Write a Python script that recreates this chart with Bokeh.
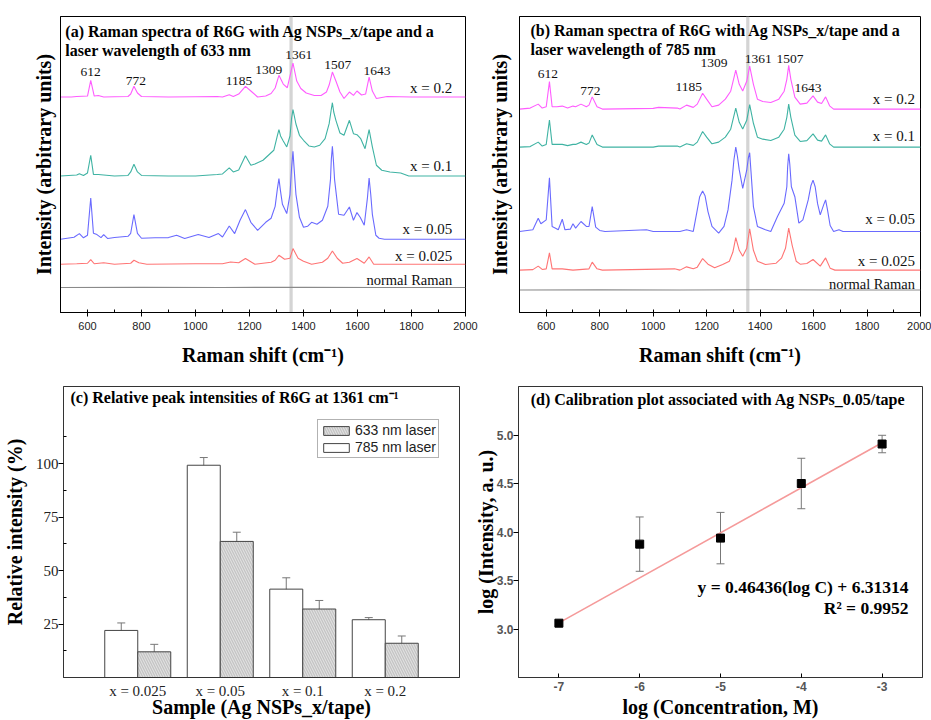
from bokeh.plotting import figure
from bokeh.models import (Range1d, FactorRange, ColumnDataSource, FixedTicker, SingleIntervalTicker,
                          Whisker, TeeHead, Legend, LegendItem, BoxAnnotation, PrintfTickFormatter)
from bokeh.transform import dodge
from bokeh.layouts import column, row
from bokeh.embed import file_html
from bokeh.resources import INLINE
from bokeh.core.properties import value

# ---------------- data ----------------
# (a) 633 nm spectra: Raman shift (cm-1) and intensity above each baseline (arb. units)
a02_x = [500, 540, 560, 600, 612, 625, 640, 660, 700, 750, 760, 772, 785, 800, 900, 1000, 1080, 1100, 1125, 1140,
         1160, 1185, 1205, 1230, 1260, 1280, 1295, 1309, 1325, 1340, 1361, 1375, 1390, 1410, 1440, 1465, 1485, 1495,
         1507, 1520, 1535, 1550, 1570, 1585, 1598, 1615, 1630, 1643, 1655, 1670, 1710, 1800, 2000]
a02_i = [0, 0, 0.5, 1, 16.7, 1, 1.5, 0, 0.3, 0.5, 3, 10.7, 4, 0.5, 0, 0.3, 0.5, 0, 2.3, 0.5,
         3, 10.7, 6, 0, 1, 3.5, 9, 21.7, 13, 9.3, 34, 16, 8.5, 4, 1.5, 1.5, 5, 12,
         25, 16, 5, -1.5, 5, 1.7, 6, 2, 3, 20, 6, -1.5, 0.5, 0, 0]
a01_x = [500, 560, 570, 585, 600, 612, 622, 640, 660, 700, 750, 760, 772, 785, 800, 900, 1000, 1080, 1100, 1125,
         1140, 1160, 1185, 1205, 1220, 1250, 1270, 1290, 1303, 1309, 1315, 1325, 1338, 1350, 1356, 1361, 1366, 1372,
         1385, 1400, 1420, 1440, 1460, 1480, 1495, 1502, 1507, 1512, 1520, 1535, 1550, 1570, 1585, 1598, 1612, 1628,
         1643, 1655, 1670, 1690, 1720, 1760, 1790, 2000]
a01_i = [0, 1, 2.3, 0.5, 3, 20.7, 1.5, 1.5, 1, 0, 0.5, 4, 11.7, 4, 0.5, 0, 0, 1.5, 2, 8,
         4, 6, 20.3, 10.7, 12, 15.7, 20.7, 25.7, 40, 46.3, 40, 35, 29, 40, 58, 66.3, 60, 52,
         40.7, 35.7, 30, 29, 30.7, 37.3, 52.3, 65, 73.3, 64, 55.7, 43, 40.7, 55.7, 42.3, 41.3, 37.3, 27.3,
         46.3, 29, 10.7, 5.7, 4, 3, 0, 0]
a005_x = [500, 550, 570, 585, 600, 612, 622, 635, 650, 660, 675, 700, 750, 760, 772, 785, 800, 850, 900, 930,
          960, 1010, 1050, 1085, 1100, 1125, 1145, 1165, 1185, 1205, 1230, 1260, 1280, 1295, 1303, 1309, 1315, 1322,
          1338, 1350, 1356, 1361, 1366, 1372, 1385, 1400, 1415, 1430, 1450, 1470, 1490, 1500, 1503, 1507, 1511, 1515,
          1530, 1550, 1570, 1585, 1598, 1610, 1625, 1637, 1643, 1649, 1655, 1668, 1680, 1700, 2000]
a005_i = [0, 2, 5.7, 1.5, 4, 41.3, 6, 4.7, 1.7, 4.7, 0.7, 1.7, 3, 6, 24.7, 6, 1, 1.5, 1.7, 4,
          0.7, 4.7, 1.7, 5.7, 2.3, 13.3, 5.7, 19, 29.7, 17, 9, 17, 21, 33, 50, 60.7, 48, 35,
          25.7, 45, 72, 88, 68, 45, 22, 12, 13, 17, 15, 19, 33, 60, 80, 93, 78, 60,
          25, 24, 32.3, 19, 26.7, 22, 14, 42, 61.3, 45, 25, 4, 1, 0, 0]
a0025_x = [500, 560, 600, 612, 625, 660, 700, 760, 772, 790, 820, 1000, 1100, 1130, 1160, 1185, 1220, 1280, 1295,
           1309, 1330, 1350, 1361, 1380, 1400, 1430, 1470, 1490, 1507, 1525, 1545, 1570, 1598, 1625, 1643, 1660, 2000]
a0025_i = [0, 0.5, 1, 4.7, 0.5, 1.5, 0, 1, 4, 1.5, 0, 0.5, 0.5, 2.3, 1.5, 5.7, 0, 2, 4,
           9, 5, 6, 15.7, 6, 3, 0, 2, 6, 13.3, 6, 1, 2, 5.7, 1, 7.3, 0, 0]
anorm_x = [500, 800, 1100, 1400, 1700, 2000]
anorm_i = [0, 0.3, 0, 0.3, 0, 0]
a_offsets = [215.7, 136.7, 73.3, 48.3, 25.0]

# (b) 785 nm spectra
b02_x = [500, 540, 570, 585, 600, 612, 622, 640, 660, 680, 700, 710, 730, 750, 760, 772, 790, 810, 1000, 1020,
         1090, 1100, 1125, 1150, 1165, 1185, 1200, 1220, 1245, 1270, 1290, 1309, 1322, 1335, 1350, 1361, 1375, 1390,
         1410, 1440, 1470, 1490, 1500, 1507, 1515, 1530, 1550, 1575, 1598, 1615, 1630, 1645, 1660, 1675, 2000]
b02_i = [0, 1, 5, 1, 2.3, 27.7, 2.3, 2.3, 3, 1, 3, 2.3, 5, 2.3, 4, 12.3, 2.3, 0, 0.7, 1.7,
         1, 0, 4, 1.7, 5, 16, 10, 2.3, 4, 10, 18, 39.3, 25, 18.3, 28, 43.3, 25, 10,
         7.7, 6.7, 10, 18, 30, 44, 30, 12, 5, 6, 13.3, 7, 5.7, 12.3, 3.3, 0, 0]
b01_x = b02_x
b01_i = [0, 0.5, 5, 1, 2.7, 27.3, 2.7, 2.7, 2.7, 1.5, 2.7, 2.7, 5, 2.7, 4, 12.3, 2.7, 0, 0, 1,
         1, 0, 3.3, 1.7, 5, 15.7, 10, 3.3, 5, 10, 18, 39.3, 25, 18.3, 27, 42.7, 24, 10,
         8, 6.7, 10, 18, 30, 43.3, 30, 12, 5.7, 6.5, 13.3, 7, 6, 12.3, 3.3, 0, 0]
b005_x = [500, 550, 570, 580, 600, 612, 622, 635, 645, 660, 670, 690, 700, 710, 730, 750, 760, 772, 785, 800,
          820, 975, 1000, 1100, 1125, 1150, 1165, 1174, 1185, 1194, 1205, 1220, 1245, 1265, 1280, 1295, 1302, 1309,
          1315, 1322, 1335, 1350, 1356, 1361, 1366, 1375, 1390, 1420, 1440, 1465, 1490, 1500, 1503, 1507, 1511, 1517,
          1530, 1545, 1560, 1580, 1590, 1598, 1606, 1615, 1625, 1638, 1645, 1652, 1662, 1675, 1695, 1710, 2000]
b005_i = [0, 1.7, 13.3, 7.7, 11.7, 54, 5, 3.3, 1.7, 12.3, 1.7, 2.3, 7.7, 3.3, 10, 5, 5, 25, 4.3, 1,
          0, 1.7, 0, 0, 1.7, 0, 21.7, 35, 40.7, 36, 20, 5, -1.7, 5, 21.7, 51.7, 72, 85,
          76, 62, 43.3, 61.7, 74, 79.3, 60, 25, 5, 1.7, 0, 15, 28.3, 45, 65, 78.3, 68, 45,
          35, 8.3, 11.7, 31.7, 46, 51.7, 45, 28, 16.7, 27, 31.7, 22, 6, 0, 1.7, 0, 0]
b0025_x = [500, 550, 570, 585, 600, 612, 622, 660, 700, 760, 772, 790, 810, 1080, 1100, 1125, 1150, 1165, 1185,
           1205, 1230, 1260, 1285, 1298, 1309, 1322, 1335, 1350, 1361, 1375, 1390, 1420, 1460, 1480, 1495, 1507,
           1520, 1535, 1550, 1575, 1598, 1625, 1645, 1662, 1680, 2000]
b0025_i = [0, 0.5, 4, 0.7, 1.3, 17.3, 1.3, 1.3, 0, 1.3, 8, 1.3, 0, 1.3, 0, 3.3, 1.3, 3, 11.7,
           6, 2.3, 5.7, 9, 18, 32.7, 20, 14, 22, 41.7, 20, 9, 5.7, 7, 12, 22, 42.3,
           25, 9, 6, 6.7, 10.7, 4, 12.3, 2, 0, 0]
bnorm_x = [500, 800, 1100, 1400, 1700, 2000]
bnorm_i = [0, 0.3, 0, 0.3, 0, 0]
b_offsets = [205.0, 166.7, 81.7, 42.7, 22.7]

series_labels = ["x = 0.2", "x = 0.1", "x = 0.05", "x = 0.025", "normal Raman"]
peak_labels = ["612", "772", "1185", "1309", "1361", "1507", "1643"]
band_shift = [1348, 1360]

# (c) relative peak intensities at 1361 cm-1
samples = ["x = 0.025", "x = 0.05", "x = 0.1", "x = 0.2"]
rel_785 = [22.0, 99.2, 41.3, 27.0]
err_785 = [3.5, 3.6, 5.3, 1.0]
rel_633 = [12.0, 63.6, 32.0, 16.0]
err_633 = [3.5, 4.3, 4.0, 3.4]
c_ticks = [25, 50, 75, 100]

# (d) calibration
log_conc = [-7, -6, -5, -4, -3]
log_int = [3.06, 3.875, 3.937, 4.50, 4.907]
log_err = [0.02, 0.28, 0.265, 0.26, 0.09]
fit_x = [-7, -3]
fit_y = [3.063, 4.920]
d_xticks = [-7, -6, -5, -4, -3]
d_yticks = [3.0, 3.5, 4.0, 4.5, 5.0]

# ---------------- style ----------------
SERIF = "Liberation Serif"
SANS = "Liberation Sans"
COLORS = ["#ff5cff", "#3fb3a3", "#6a6aff", "#ff7474", "#8a8a8a"]
TITLE_SIZE = "16px"


def base_fig(w, h, xr, yr, bl, br, bt, bb):
    p = figure(width=w, height=h, x_range=xr, y_range=yr, output_backend="svg", toolbar_location=None,
               min_border_left=bl, min_border_right=br, min_border_top=bt, min_border_bottom=bb)
    try:
        p.title = None
    except Exception:
        p.title.visible = False
    p.xgrid.visible = False
    p.ygrid.visible = False
    p.outline_line_color = "black"
    p.outline_line_width = 1
    p.background_fill_color = "white"
    p.border_fill_color = "white"
    for ax in (p.xaxis[0], p.yaxis[0]):
        ax.axis_label_text_font = SERIF
        ax.axis_label_text_font_style = "bold"
        ax.axis_label_text_font_size = "20px"
        ax.axis_label_text_color = "black"
        ax.axis_line_color = "black"
    return p


def spectra_fig(w, xs, ys, offsets, ymax, bl, br, bt, bb, title, title_xy, peak_xy, lab_x, lab_y):
    p = base_fig(w, 368, Range1d(500, 2000), Range1d(0, ymax), bl, br, bt, bb)
    p.add_layout(BoxAnnotation(left=band_shift[0], right=band_shift[1], fill_color="#d4d4d4", fill_alpha=1,
                               line_color=None, level="underlay"))
    for x, i, off, c in zip(xs, ys, offsets, COLORS):
        p.line(x, [off + v for v in i], line_color=c, line_width=1.1)
    p.xaxis.ticker = SingleIntervalTicker(interval=200, num_minor_ticks=2)
    p.xaxis.major_tick_in = 2
    p.xaxis.major_tick_out = 4
    p.xaxis.minor_tick_in = 3
    p.xaxis.minor_tick_out = 0
    p.xaxis.major_label_standoff = 5
    p.xaxis.major_label_text_font = SANS
    p.xaxis.major_label_text_font_size = "11px"
    p.xaxis.major_label_text_color = "#222"
    p.xaxis.axis_label = "Raman shift (cm\u207b\u00b9)"
    p.xaxis.axis_label_standoff = 11
    p.yaxis.ticker = FixedTicker(ticks=[])
    p.yaxis.major_tick_out = 0
    p.yaxis.major_tick_in = 0
    p.yaxis.major_label_standoff = 0
    p.yaxis.axis_label = "Intensity (arbitrary units)"
    p.yaxis.axis_label_standoff = 6
    p.text(x=[title_xy[0]] * 2, y=[title_xy[1], title_xy[2]], text=title,
           text_font=value(SERIF), text_font_style="bold", text_font_size=TITLE_SIZE,
           text_align="left", text_baseline="middle", text_color="black")
    p.text(x=[q[0] for q in peak_xy], y=[q[1] for q in peak_xy], text=peak_labels,
           text_font=value(SERIF), text_font_size="13.5px", text_align="center", text_baseline="middle",
           text_color="#111")
    p.text(x=[lab_x] * 4, y=lab_y[:4], text=series_labels[:4], text_font=value(SERIF),
           text_font_size="15px", text_align="right", text_baseline="middle", text_color="#111")
    p.text(x=[lab_x], y=lab_y[4:], text=series_labels[4:], text_font=value(SERIF),
           text_font_size="14.5px", text_align="right", text_baseline="middle", text_color="#111")
    return p


pa = spectra_fig(480, [a02_x, a01_x, a005_x, a0025_x, anorm_x], [a02_i, a01_i, a005_i, a0025_i, anorm_i],
                 a_offsets, 296.3, 60, 15, 16, 56,
                 ["(a) Raman spectra of R6G with Ag NSPs_x/tape and a", "laser wavelength of 633 nm"],
                 (518, 281.3, 262.3),
                 [(612, 241), (779, 232), (1161, 232), (1271, 243), (1382, 258), (1527, 248), (1672, 242)],
                 1951, [225, 147, 84, 56.7, 33])

pb = spectra_fig(451, [b02_x, b01_x, b005_x, b0025_x, bnorm_x], [b02_i, b01_i, b005_i, b0025_i, bnorm_i],
                 b_offsets, 298.3, 39, 11, 15, 55,
                 ["(b) Raman spectra of R6G with  Ag NSPs_x/tape and a", "laser wavelength of 785 nm"],
                 (541, 284.3, 265.3),
                 [(606, 240), (765, 223), (1133, 227), (1228, 251), (1393, 255), (1512, 255), (1579, 226)],
                 1979, [215, 178, 94, 52, 29])
pb.yaxis.axis_label_standoff = 9

# ---------------- (c) bar chart ----------------
src = ColumnDataSource(dict(
    cat=samples, v785=rel_785, v633=rel_633,
    u785=[v + e for v, e in zip(rel_785, err_785)], l785=[v - e for v, e in zip(rel_785, err_785)],
    u633=[v + e for v, e in zip(rel_633, err_633)], l633=[v - e for v, e in zip(rel_633, err_633)]))

pc = base_fig(470, 352, FactorRange(*samples, range_padding=0.2), Range1d(0, 136), 62, 11, 18, 43)
pc.outline_line_color = "#333"
r785 = pc.vbar(x=dodge("cat", -0.2, range=pc.x_range), top="v785", width=0.4, source=src,
               fill_color="white", line_color="#444", line_width=1)
r633 = pc.vbar(x=dodge("cat", 0.2, range=pc.x_range), top="v633", width=0.4, source=src,
               fill_color="#c4c4c4", line_color="#444", line_width=1,
               hatch_pattern="\\", hatch_color="white", hatch_alpha=0.55, hatch_scale=5, hatch_weight=1)
for key, dx in (("785", -0.2), ("633", 0.2)):
    pc.add_layout(Whisker(source=src, base=dodge("cat", dx, range=pc.x_range), upper="u" + key, lower="l" + key,
                          line_color="#777", line_width=1,
                          upper_head=TeeHead(size=8, line_color="#777", line_width=1),
                          lower_head=TeeHead(size=8, line_color="#777", line_width=1)))
leg = Legend(items=[LegendItem(label="633 nm laser", renderers=[r633]),
                    LegendItem(label="785 nm laser", renderers=[r785])],
             location=(254, 219), orientation="vertical", margin=0, padding=2, spacing=1,
             glyph_width=32, glyph_height=11, label_standoff=3, label_height=14,
             label_text_font=SANS, label_text_font_size="14px", label_text_color="#222",
             border_line_color="#666", border_line_width=1, background_fill_color="white",
             background_fill_alpha=1)
pc.add_layout(leg)
pc.yaxis.ticker = FixedTicker(ticks=c_ticks, minor_ticks=[12.5, 37.5, 62.5, 87.5, 112.5])
pc.yaxis.major_tick_out = 5
pc.yaxis.major_tick_in = 0
pc.yaxis.minor_tick_in = 3
pc.yaxis.minor_tick_out = 0
pc.yaxis.major_label_standoff = 0
pc.yaxis.major_label_text_font = SERIF
pc.yaxis.major_label_text_font_size = "15px"
pc.yaxis.major_label_text_color = "#222"
pc.yaxis.axis_label = "Relative intensity (%)"
pc.yaxis.axis_label_standoff = 7
pc.yaxis.axis_line_color = "#333"
pc.xaxis.major_tick_in = 0
pc.xaxis.major_tick_out = 0
pc.xaxis.major_label_standoff = 5
pc.xaxis.major_label_text_font = SERIF
pc.xaxis.major_label_text_font_size = "15px"
pc.xaxis.major_label_text_color = "#222"
pc.xaxis.axis_label = "Sample (Ag NSPs_x/tape)"
pc.xaxis.axis_label_standoff = -6
pc.xaxis.axis_line_color = "#333"
pc.text(x=[-0.315], y=[130.7], text=["(c) Relative peak intensities of R6G at 1361 cm\u207b\u00b9"],
        text_font=value(SERIF), text_font_style="bold", text_font_size=TITLE_SIZE,
        text_align="left", text_baseline="middle", text_color="black")

# ---------------- (d) calibration ----------------
pd_ = base_fig(461, 352, Range1d(-7.5, -2.5), Range1d(2.5, 5.5), 48, 9, 18, 43)
pd_.outline_line_color = "#333"
dsrc = ColumnDataSource(dict(x=log_conc, y=log_int,
                             up=[v + e for v, e in zip(log_int, log_err)],
                             lo=[v - e for v, e in zip(log_int, log_err)]))
pd_.line(fit_x, fit_y, line_color="#f59a9a", line_width=1.6)
pd_.add_layout(Whisker(source=dsrc, base="x", upper="up", lower="lo", line_color="#777", line_width=1,
                       upper_head=TeeHead(size=8, line_color="#777", line_width=1),
                       lower_head=TeeHead(size=8, line_color="#777", line_width=1)))
pd_.scatter("x", "y", source=dsrc, marker="square", size=8, fill_color="black", line_color="black")
pd_.xaxis.ticker = FixedTicker(ticks=d_xticks)
pd_.xaxis.formatter = PrintfTickFormatter(format="%d")
pd_.xaxis.major_tick_in = 4
pd_.xaxis.major_tick_out = 0
pd_.xaxis.minor_tick_line_color = None
pd_.xaxis.major_label_standoff = 4
pd_.yaxis.ticker = FixedTicker(ticks=d_yticks)
pd_.yaxis.formatter = PrintfTickFormatter(format="%.1f")
pd_.yaxis.major_tick_in = 0
pd_.yaxis.major_tick_out = 5
pd_.yaxis.minor_tick_line_color = None
pd_.yaxis.major_label_standoff = 0
for ax in (pd_.xaxis[0], pd_.yaxis[0]):
    ax.major_label_text_font = SANS
    ax.major_label_text_font_size = "12px"
    ax.major_label_text_font_style = "bold"
    ax.major_label_text_color = "#555"
    ax.axis_line_color = "#333"
pd_.xaxis.axis_label = "log (Concentration, M)"
pd_.xaxis.axis_label_standoff = 2
pd_.yaxis.axis_label = "log (Intensity, a. u.)"
pd_.yaxis.axis_label_standoff = -3
pd_.text(x=[-5.03], y=[5.37], text=["(d) Calibration plot associated with Ag NSPs_0.05/tape"],
         text_font=value(SERIF), text_font_style="bold", text_font_size=TITLE_SIZE,
         text_align="center", text_baseline="middle", text_color="black")
pd_.text(x=[-2.673, -2.673], y=[3.428, 3.214], text=["y = 0.46436(log C) + 6.31314", "R\u00b2 = 0.9952"],
         text_font=value(SERIF), text_font_style="bold", text_font_size="17.5px",
         text_align="right", text_baseline="middle", text_color="black")

layout = column(row(pa, pb), row(pc, pd_))
open("out.html", "w").write(file_html(layout, INLINE))
